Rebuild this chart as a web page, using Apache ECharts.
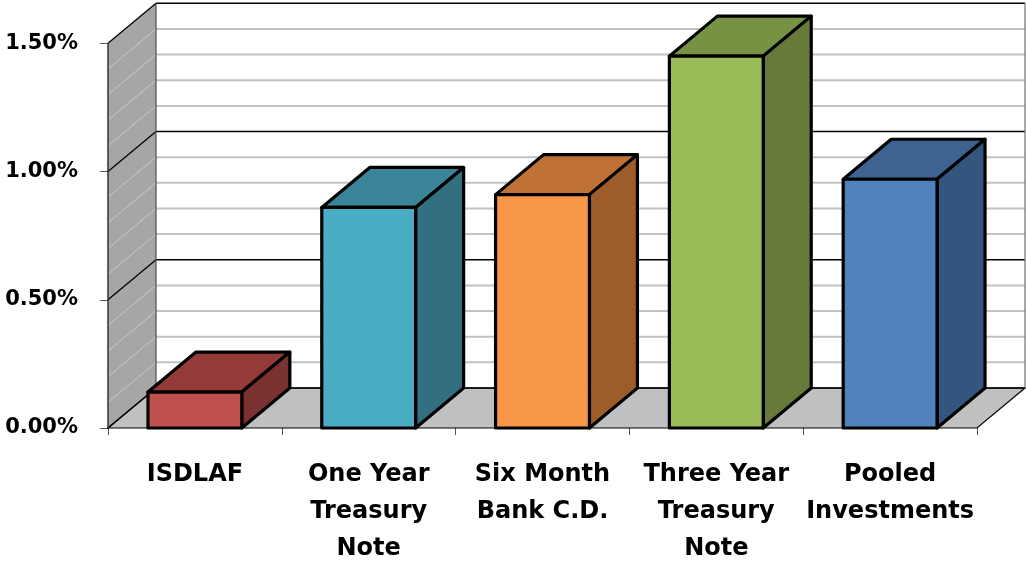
<!DOCTYPE html>
<html>
<head>
<meta charset="utf-8">
<title>Investment Yields</title>
<script src="https://cdn.jsdelivr.net/npm/echarts@6/dist/echarts.min.js"></script>
<style>
  html, body { margin: 0; padding: 0; background: #ffffff; overflow: hidden; }
  #chart { width: 1026px; height: 567px; }
</style>
</head>
<body>
<div id="chart"></div>
<script>
// Categories and yields (percent)
const categories = [
  'ISDLAF',
  'One Year\nTreasury\nNote',
  'Six Month\nBank C.D.',
  'Three Year\nTreasury\nNote',
  'Pooled\nInvestments'
];
const yields = [0.14, 0.86, 0.91, 1.45, 0.97];

// Bar face colours: front, top, side
const frontColors = ['#C0504D', '#4BACC6', '#F79646', '#9BBB59', '#4F81BD'];
const topColors   = ['#943A38', '#3A8599', '#BF7136', '#789244', '#3E6390'];
const sideColors  = ['#7B3130', '#326F80', '#9C5D2B', '#677A3A', '#34557E'];

// Wall grid levels and axis tick labels
const gridLevels  = [0, 0.1, 0.2, 0.3, 0.4, 0.5, 0.6, 0.7, 0.8, 0.9, 1.0, 1.1, 1.2, 1.3, 1.4, 1.5];
const majorLevels = [0, 0.5, 1.0, 1.5];

// Perspective depth offset (pixels)
const DX = 48, DY = -40;

const chart = echarts.init(document.getElementById('chart'), null, { renderer: 'canvas', width: 1026, height: 567 });

function isMajor(v) {
  return majorLevels.some(m => Math.abs(m - v) < 1e-9);
}

// Walls, floor and grid lines of the 3D box
function renderWalls(params, api) {
  const cs = params.coordSys;
  const x0 = cs.x, x1 = cs.x + cs.width;
  const yOf = v => api.coord([0, v])[1];
  const yTop = yOf(1.5), yBot = yOf(0);
  const children = [];

  children.push({
    type: 'polygon',
    shape: { points: [[x0, yTop], [x0 + DX, yTop + DY], [x0 + DX, yBot + DY], [x0, yBot]] },
    style: { fill: '#A6A6A6', stroke: null }
  });
  children.push({
    type: 'rect',
    shape: { x: x0 + DX, y: yTop + DY, width: x1 - x0, height: yBot - yTop },
    style: { fill: '#FFFFFF', stroke: null }
  });
  children.push({
    type: 'polygon',
    shape: { points: [[x0, yBot], [x1, yBot], [x1 + DX, yBot + DY], [x0 + DX, yBot + DY]] },
    style: { fill: '#C0C0C0', stroke: '#000000', lineWidth: 1.2 }
  });

  // minor lines first, major on top
  const minor = gridLevels.filter(v => !isMajor(v));
  const major = gridLevels.filter(v => isMajor(v));
  minor.forEach(v => {
    const y = yOf(v);
    children.push({
      type: 'line',
      shape: { x1: x0 + DX, y1: y + DY, x2: x1 + DX, y2: y + DY },
      style: { stroke: '#C2C2C2', lineWidth: 2 }
    });
    children.push({
      type: 'line',
      shape: { x1: x0, y1: y, x2: x0 + DX, y2: y + DY },
      style: { stroke: '#C9C9C9', lineWidth: 1 }
    });
  });
  major.forEach(v => {
    const y = yOf(v);
    children.push({
      type: 'line',
      shape: { x1: x0 + DX, y1: y + DY, x2: x1 + DX, y2: y + DY },
      style: { stroke: '#000000', lineWidth: 1.5 }
    });
    children.push({
      type: 'line',
      shape: { x1: x0, y1: y, x2: x0 + DX, y2: y + DY },
      style: { stroke: '#000000', lineWidth: 1.3 }
    });
  });

  // wall edges
  children.push({
    type: 'line',
    shape: { x1: x0 + DX, y1: yTop + DY, x2: x0 + DX, y2: yBot + DY },
    style: { stroke: '#4D4D4D', lineWidth: 1.2 }
  });
  children.push({
    type: 'line',
    shape: { x1: x1 + DX, y1: yTop + DY, x2: x1 + DX, y2: yBot + DY },
    style: { stroke: '#6E6E6E', lineWidth: 1.2 }
  });
  children.push({
    type: 'line',
    shape: { x1: x0, y1: yTop, x2: x0, y2: yBot },
    style: { stroke: '#333333', lineWidth: 1.5 }
  });

  return { type: 'group', children: children };
}

// One 3D box per category
function renderBar(params, api) {
  const idx = api.value(0);
  const val = api.value(1);
  const base = api.coord([idx, 0]);
  const top = api.coord([idx, val]);
  const bw = api.size([1, 0])[0] * 0.54;
  const l = base[0] - bw / 2, r = base[0] + bw / 2;
  const t = top[1], b = base[1];
  const i = params.dataIndex;
  const edge = { stroke: '#000000', lineWidth: 3.2, lineJoin: 'round' };

  return {
    type: 'group',
    children: [
      {
        type: 'polygon',
        shape: { points: [[l, t], [r, t], [r + DX, t + DY], [l + DX, t + DY]] },
        style: Object.assign({ fill: topColors[i] }, edge)
      },
      {
        type: 'polygon',
        shape: { points: [[r, t], [r + DX, t + DY], [r + DX, b + DY], [r, b]] },
        style: Object.assign({ fill: sideColors[i] }, edge)
      },
      {
        type: 'rect',
        shape: { x: l, y: t, width: bw, height: b - t },
        style: Object.assign({ fill: frontColors[i] }, edge)
      }
    ]
  };
}

const labelFont = '"DejaVu Sans", sans-serif';

const option = {
  animation: false,
  backgroundColor: '#ffffff',
  grid: { left: 108, width: 869, top: 43.3, height: 391, containLabel: false },
  xAxis: {
    type: 'category',
    data: categories,
    boundaryGap: true,
    axisLine: { show: false },
    axisTick: { show: true, alignWithLabel: false, length: 7, lineStyle: { color: '#555555', width: 1 } },
    axisLabel: {
      interval: 0,
      margin: 28,
      color: '#000000',
      fontFamily: labelFont,
      fontWeight: 'bold',
      fontSize: 24,
      lineHeight: 37,
      align: 'center'
    },
    splitLine: { show: false }
  },
  yAxis: {
    type: 'value',
    min: 0,
    max: 1.5,
    interval: 0.5,
    axisLine: { show: false },
    axisTick: { show: true, length: 8, lineStyle: { color: '#555555', width: 1 } },
    axisLabel: {
      margin: 30,
      color: '#000000',
      fontFamily: labelFont,
      fontWeight: 'bold',
      fontSize: 21,
      padding: [5, 0, 0, 0],
      formatter: v => v.toFixed(2) + '%'
    },
    splitLine: { show: false }
  },
  series: [
    {
      type: 'custom',
      name: 'walls',
      z: 1,
      silent: true,
      renderItem: renderWalls,
      data: [[0, 0]]
    },
    {
      type: 'custom',
      name: 'Yield',
      z: 3,
      renderItem: renderBar,
      encode: { x: 0, y: 1 },
      data: yields.map((v, i) => [i, v])
    }
  ]
};

chart.setOption(option);
</script>
</body>
</html>
